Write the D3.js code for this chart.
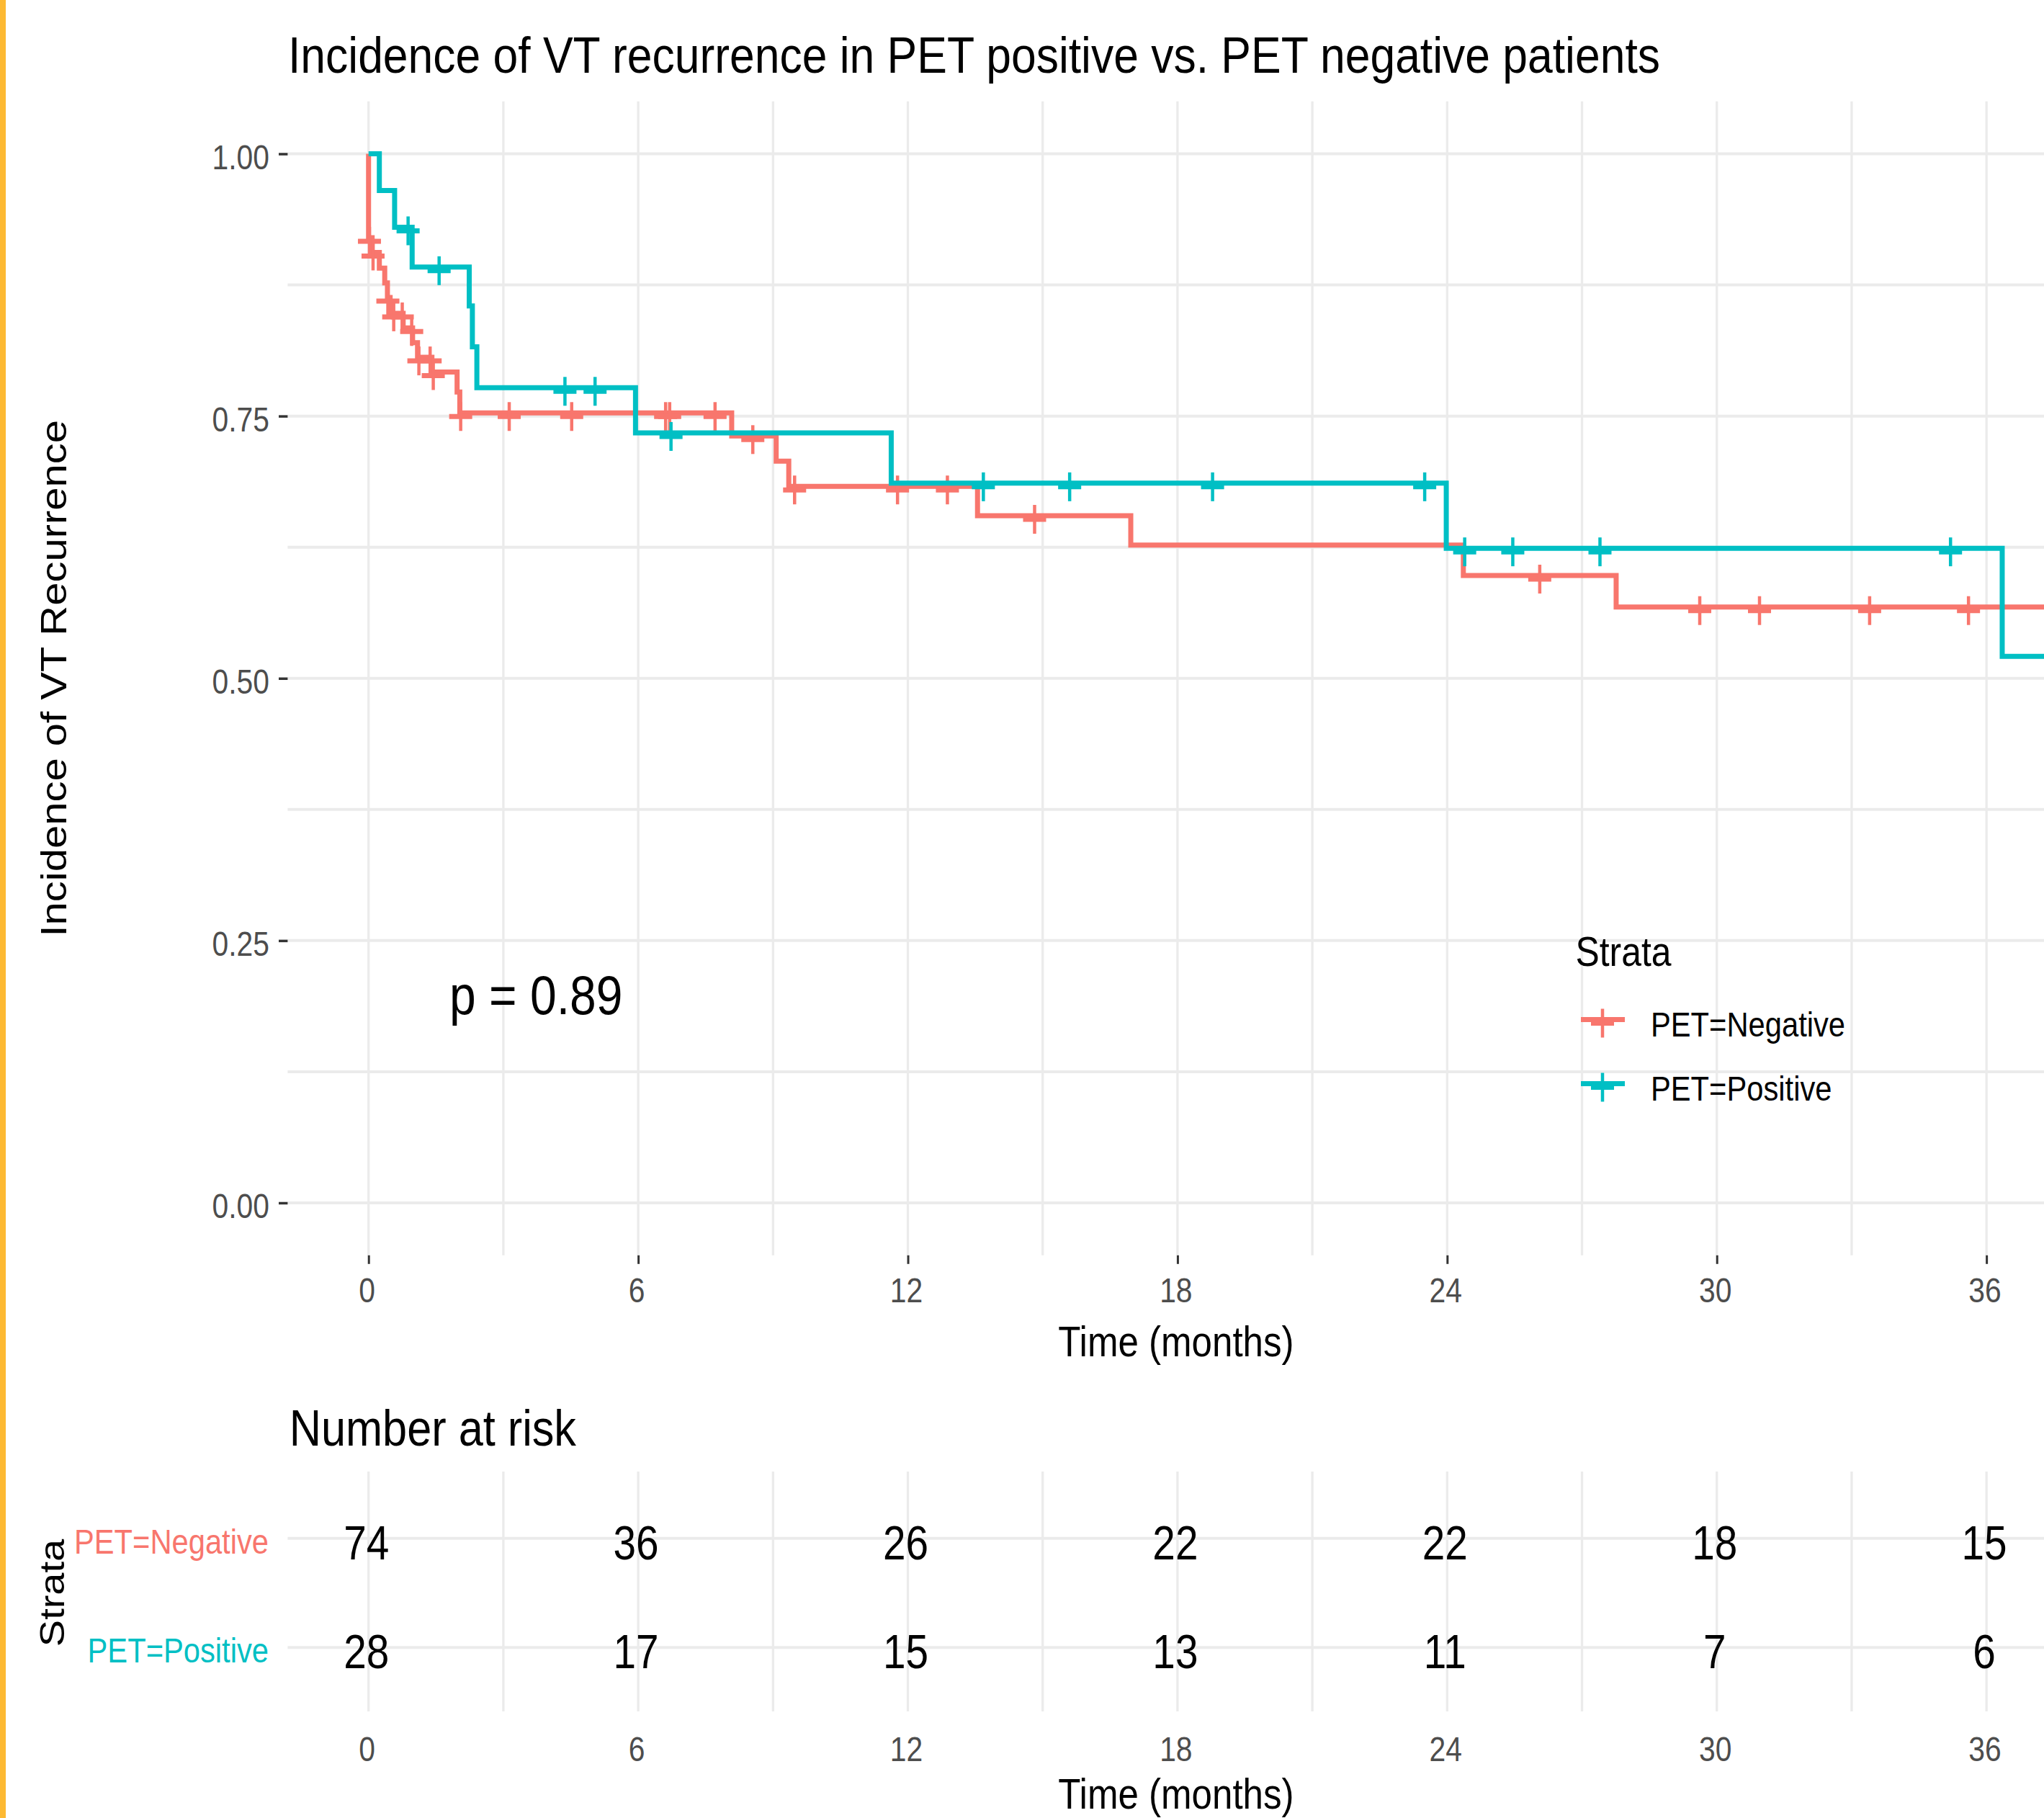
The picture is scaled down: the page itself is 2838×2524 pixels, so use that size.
<!DOCTYPE html>
<html>

<head>
    <meta charset="utf-8">
    <title>Incidence of VT recurrence</title>
    <script src="https://cdnjs.cloudflare.com/ajax/libs/d3/7.8.5/d3.min.js"></script>
    <style>
        body { margin: 0; background: #fff; }
        svg text { font-family: "Liberation Sans", Arial, sans-serif; }
    </style>
</head>

<body>
    <svg id="chart" width="2838" height="2524"></svg>

    <script>
        // ---- values ----
        let strata = ['PET=Negative', 'PET=Positive']
        let strataColors = ['#F8766D', '#00BFC4']

        // Kaplan-Meier steps: time of drop (months) and survival after it
        let negTime = [0, 0.08, 0.24, 0.36, 0.42, 0.48, 0.77, 0.98, 1.09, 1.41, 1.97, 2.03, 8.08, 9.07, 9.35, 13.55, 16.96, 24.36, 27.76]
        let negSurv = [0.920, 0.906, 0.891, 0.877, 0.863, 0.848, 0.834, 0.820, 0.806, 0.792, 0.773, 0.753, 0.731, 0.707, 0.683, 0.655, 0.627, 0.598, 0.568]
        let negCensor = [0.02, 0.10, 0.43, 0.56, 0.75, 0.96, 1.12, 1.37, 1.44, 2.05, 3.13, 4.52, 6.61, 6.70, 7.71, 8.55, 9.48, 11.77, 12.88, 14.82, 26.06, 29.62, 30.95, 33.40, 35.60]

        let posTime = [0.24, 0.58, 0.97, 2.24, 2.31, 2.41, 5.94, 11.63, 23.98, 36.35]
        let posSurv = [0.965, 0.930, 0.892, 0.855, 0.816, 0.777, 0.734, 0.686, 0.624, 0.521]
        let posCensor = [0.88, 1.57, 4.37, 5.04, 6.73, 13.68, 15.60, 18.78, 23.50, 24.39, 25.46, 27.40, 35.20]

        let riskTimes = [0, 6, 12, 18, 24, 30, 36]
        let riskNeg = [74, 36, 26, 22, 22, 18, 15]
        let riskPos = [28, 17, 15, 13, 11, 7, 6]

        let yTicks = [0, 0.25, 0.5, 0.75, 1]
        let pText = 'p = 0.89'

        // ---- layout ----
        const W = 2838, H = 2524
        const sx = 0.86 // the picture is squeezed sideways, so is the text
        const lastTime = 37.3

        let svg = d3.select('#chart')
        svg.append('rect').attr('width', W).attr('height', H).attr('fill', '#fff')
        svg.append('rect').attr('width', 8).attr('height', H).attr('fill', '#FDB933')

        let x = d3.scaleLinear().domain([-1.8, 37.28]).range([399.4, W])
        let y = d3.scaleLinear().domain([-0.05, 1.05]).range([1742.8, 140.7])
        let yRisk = d3.scalePoint().domain(strata).range([2045, 2378]).padding(0.6)

        function label(g, str, px, py, size, opt) {
            opt = opt || {}
            return g.append('text')
                .attr('transform', 'translate(' + px + ',' + py + ') scale(' + (opt.sx || sx) + ',1)' + (opt.rotate ? ' rotate(' + opt.rotate + ')' : ''))
                .attr('font-size', size)
                .attr('text-anchor', opt.anchor || 'start')
                .attr('fill', opt.fill || '#000')
                .text(str)
        }

        // title
        label(svg, 'Incidence of VT recurrence in PET positive vs. PET negative patients', 400, 100.5, 70, { sx: 0.892 })

        // ---- survival panel ----
        let gridTimes = d3.range(0, 37, 3)
        let gridY = d3.range(0, 1.001, 0.125)
        let grid = svg.append('g').attr('stroke', '#EBEBEB')
        grid.selectAll('.vg').data(gridTimes).enter().append('line')
            .attr('x1', d => x(d)).attr('x2', d => x(d))
            .attr('y1', y(1.05)).attr('y2', y(-0.05))
            .attr('stroke-width', 3.3)
        grid.selectAll('.hg').data(gridY).enter().append('line')
            .attr('x1', x(-1.8)).attr('x2', W)
            .attr('y1', d => y(d)).attr('y2', d => y(d))
            .attr('stroke-width', 4)

        // axes (ticks through d3.axis, text squeezed afterwards)
        let xAxis = svg.append('g').attr('transform', 'translate(0,' + y(-0.05) + ')')
            .call(d3.axisBottom(x).tickValues(riskTimes).tickSize(12).tickPadding(19))
        xAxis.select('.domain').remove()
        xAxis.selectAll('line').attr('stroke', '#333').attr('stroke-width', 3)
        xAxis.selectAll('text').attr('x', -3).attr('transform', 'scale(' + sx + ',1)').attr('font-size', 47.5).attr('fill', '#4D4D4D')

        let yAxis = svg.append('g').attr('transform', 'translate(' + x(-1.8) + ',0)')
            .call(d3.axisLeft(y).tickValues(yTicks).tickFormat(d3.format('.2f')).tickSize(12.4))
        yAxis.select('.domain').remove()
        yAxis.selectAll('line').attr('stroke', '#333').attr('stroke-width', 3.5)
        yAxis.selectAll('text').attr('x', -25.4 / sx).attr('dy', '0.44em')
            .attr('transform', 'scale(' + sx + ',1)').attr('font-size', 47.5).attr('fill', '#4D4D4D')

        label(svg, 'Time (months)', x(18) - 2, 1882.7, 59.4, { anchor: 'middle' })
        label(svg, 'Incidence of VT Recurrence', 91.7, (y(1.05) + y(-0.05)) / 2, 58, { anchor: 'middle', rotate: -90 })

        // curves
        svg.append('clipPath').attr('id', 'panel').append('rect')
            .attr('x', x(-1.8)).attr('y', y(1.05)).attr('width', W - x(-1.8)).attr('height', y(-0.05) - y(1.05))

        let line = d3.line().x(d => x(d[0])).y(d => y(d[1])).curve(d3.curveStepAfter)

        function stepPoints(times, surv) {
            let pts = [[0, 1]]
            times.forEach((t, i) => pts.push([t, surv[i]]))
            pts.push([lastTime, surv[surv.length - 1]])
            return pts
        }

        function survAt(times, surv, t) {
            let s = 1
            times.forEach((tt, i) => { if (tt <= t) s = surv[i] })
            return s
        }

        function plus(g, cx, cy, color) {
            g.append('line').attr('x1', cx - 16).attr('x2', cx + 16).attr('y1', cy + 5).attr('y2', cy + 5)
                .attr('stroke', color).attr('stroke-width', 7)
            g.append('line').attr('x1', cx).attr('x2', cx).attr('y1', cy - 15).attr('y2', cy + 25)
                .attr('stroke', color).attr('stroke-width', 4.5)
        }

        let curves = [
            { times: negTime, surv: negSurv, censor: negCensor, color: strataColors[0] },
            { times: posTime, surv: posSurv, censor: posCensor, color: strataColors[1] }
        ]
        let plot = svg.append('g').attr('clip-path', 'url(#panel)')
        curves.forEach(c => {
            plot.append('path')
                .attr('d', line(stepPoints(c.times, c.surv)))
                .attr('fill', 'none')
                .attr('stroke', c.color)
                .attr('stroke-width', 7)
            c.censor.forEach(t => plus(plot, x(t), y(survAt(c.times, c.surv, t)), c.color))
        })

        // p-value
        label(svg, pText, x(1.8), y(0.2) + 29, 76.8)

        // legend
        label(svg, 'Strata', 2187.5, 1341.4, 58)
        strata.forEach((s, i) => {
            let ly = 1415.5 + i * 89
            svg.append('line').attr('x1', 2195).attr('x2', 2256).attr('y1', ly).attr('y2', ly)
                .attr('stroke', strataColors[i]).attr('stroke-width', 7)
            plus(svg, 2225, ly, strataColors[i])
            label(svg, s, 2292, ly + 23.5, 48.5)
        })

        // ---- number at risk table ----
        label(svg, 'Number at risk', 401.8, 2006.5, 70, { sx: 0.875 })

        let rgrid = svg.append('g').attr('stroke', '#EBEBEB')
        rgrid.selectAll('.rv').data(gridTimes).enter().append('line')
            .attr('x1', d => x(d)).attr('x2', d => x(d))
            .attr('y1', 2043).attr('y2', 2376)
            .attr('stroke-width', 3.3)
        rgrid.selectAll('.rh').data(strata).enter().append('line')
            .attr('x1', x(-1.8)).attr('x2', W)
            .attr('y1', d => yRisk(d)).attr('y2', d => yRisk(d))
            .attr('stroke-width', 4)

        let riskRows = [riskNeg, riskPos]
        riskRows.forEach((row, i) => {
            row.forEach((n, j) => {
                label(svg, n, x(riskTimes[j]) - 3, yRisk(strata[i]) + 29, 66, { anchor: 'middle' })
            })
            label(svg, strata[i], 373, yRisk(strata[i]) + 21, 48.5, { anchor: 'end', fill: strataColors[i] })
        })

        let xRisk = svg.append('g').attr('transform', 'translate(0,2376)')
            .call(d3.axisBottom(x).tickValues(riskTimes).tickSize(0).tickPadding(35.3))
        xRisk.select('.domain').remove()
        xRisk.selectAll('text').attr('x', -3).attr('transform', 'scale(' + sx + ',1)').attr('font-size', 47.5).attr('fill', '#4D4D4D')

        label(svg, 'Time (months)', x(18) - 2, 2511, 59.4, { anchor: 'middle' })
        label(svg, 'Strata', 88.7, (2045 + 2378) / 2, 56, { anchor: 'middle', rotate: -90 })
    </script>
</body>

</html>
